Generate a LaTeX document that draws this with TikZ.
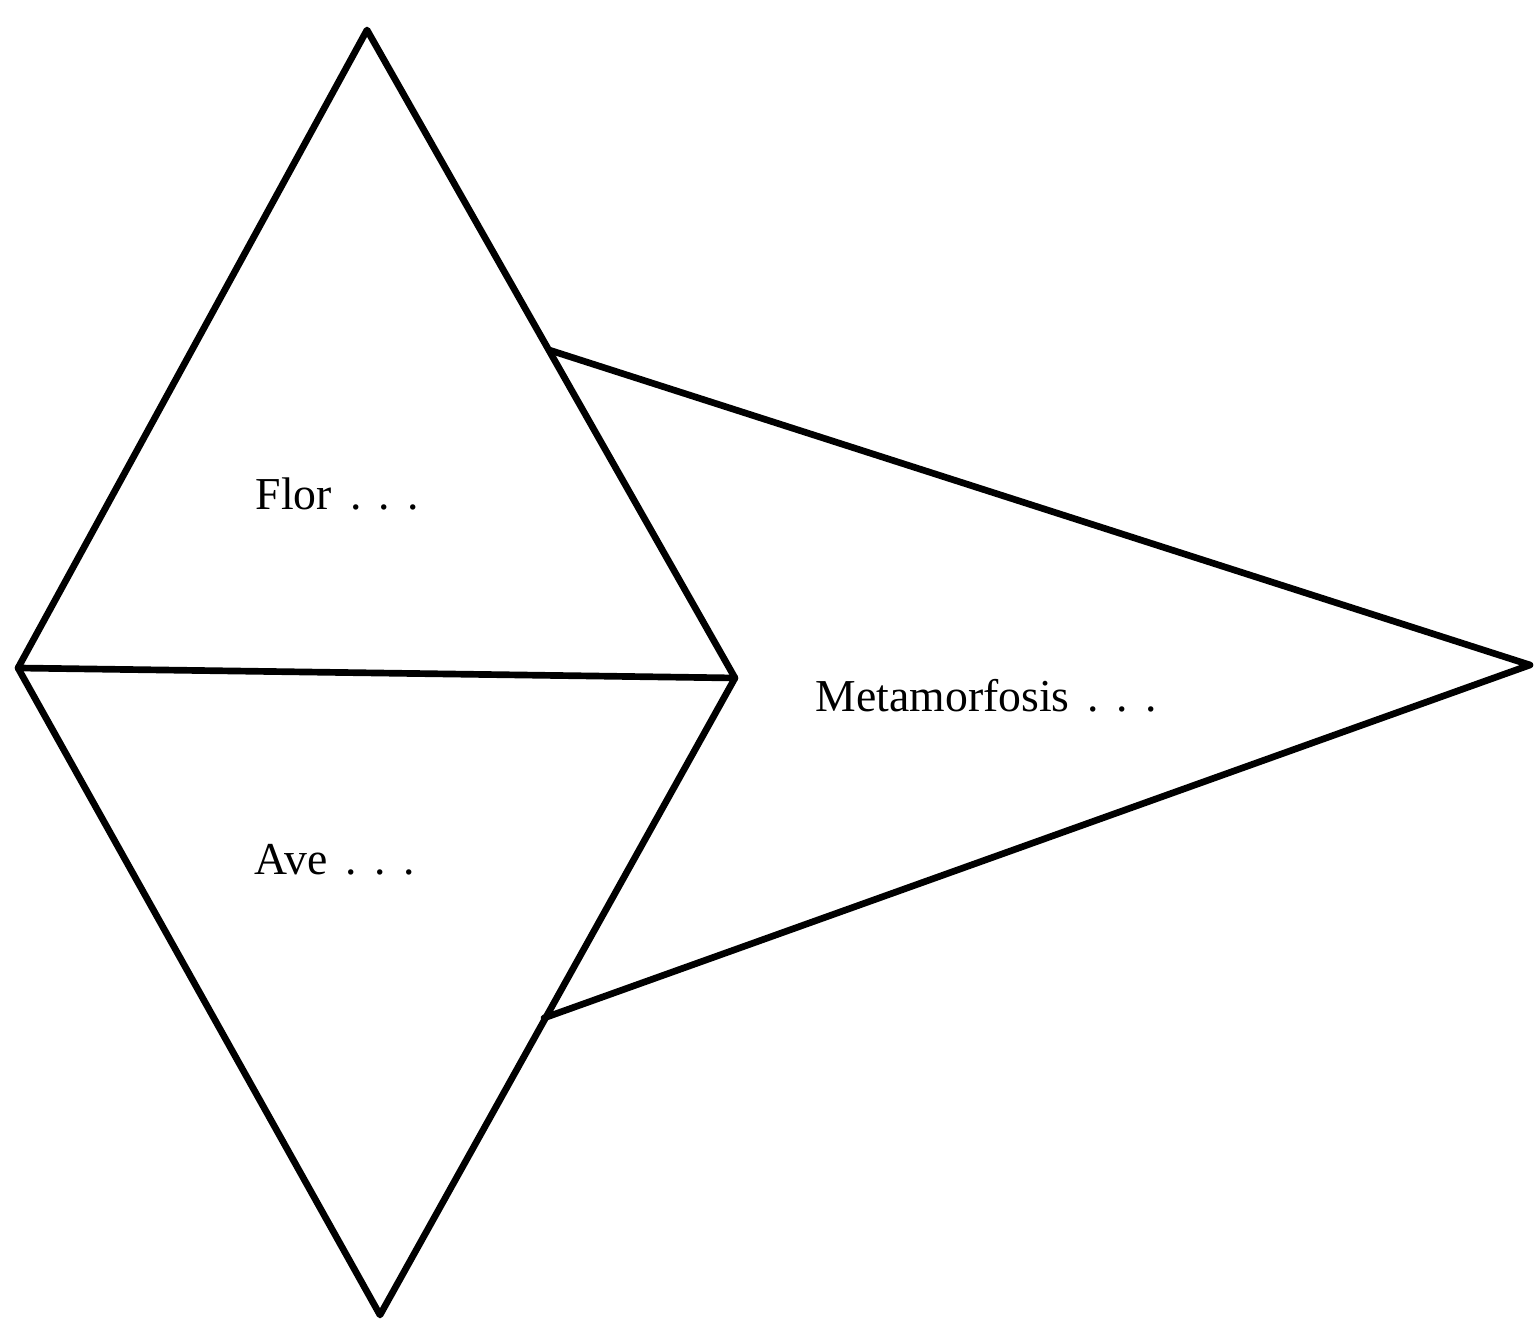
\documentclass[tikz,border=0pt]{standalone}
\usepackage{fontspec}
\setmainfont{Liberation Serif}
\usetikzlibrary{positioning, calc}

\newcommand{\trail}{\hspace{0.4em}.\hspace{0.38em}.\hspace{0.38em}.}

\begin{document}
\begin{tikzpicture}[
    % Define line and label styles
    edge/.style={line width=1.9pt, line join=round, line cap=round},
    label/.style={anchor=base west, inner sep=0pt, font=\fontsize{13}{15}\selectfont},
]

% Fixing the page size
\useasboundingbox (0,0) rectangle (15.37,13.26);

% Corners of the two triangles
\coordinate (Top) at (3.67,12.96);
\coordinate (Left) at (0.18,6.58);
\coordinate (Right) at (7.35,6.48);
\coordinate (Bottom) at (3.80,0.11);

% Corners of the side wedge
\coordinate (UpperFoot) at (5.49,9.76);
\coordinate (LowerFoot) at (5.44,3.08);
\coordinate (Tip) at (15.30,6.61);

% Drawing the two triangles
\draw[edge] (Left) -- (Top) -- (Right) -- (Bottom) -- cycle;
\draw[edge] (Left) -- (Right);

% Drawing the side wedge
\draw[edge] (UpperFoot) -- (Tip) -- (LowerFoot);

% Adding the labels
\node[label] (Flor) at (2.55,8.16) {Flor\trail};
\node[label] (Ave) at (2.54,4.51) {Ave\trail};
\node[label] (Meta) at (8.15,6.14) {Metamorfosis\trail};

\end{tikzpicture}
\end{document}
